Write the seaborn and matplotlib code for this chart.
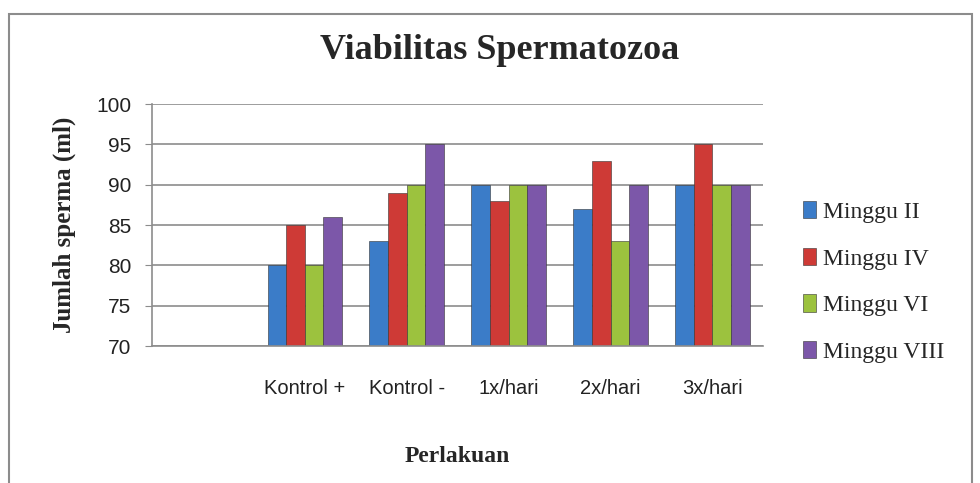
import pandas as pd
import seaborn as sns
import matplotlib.pyplot as plt
from matplotlib.patches import Rectangle

# Viabilitas spermatozoa per perlakuan dan minggu
perlakuan = ["Kontrol +", "Kontrol -", "1x/hari", "2x/hari", "3x/hari"]
minggu = ["Minggu II", "Minggu IV", "Minggu VI", "Minggu VIII"]
minggu_2 = [80, 83, 90, 87, 90]
minggu_4 = [85, 89, 88, 93, 95]
minggu_6 = [80, 90, 90, 83, 90]
minggu_8 = [86, 95, 90, 90, 90]

colors = ["#3B7CC8", "#CE3A36", "#9CC23E", "#7C57A9"]

df = pd.DataFrame({
    "perlakuan": perlakuan * 4,
    "minggu": [m for m in minggu for _ in perlakuan],
    "nilai": minggu_2 + minggu_4 + minggu_6 + minggu_8,
})

sns.set_style("white")
fig = plt.figure(figsize=(9.8, 4.83), dpi=100)
ax = fig.add_axes([0.155, 0.2836, 0.624, 0.501])

# the first slot is empty in the original chart
order = [""] + perlakuan
sns.barplot(data=df, x="perlakuan", y="nilai", hue="minggu", order=order,
            hue_order=minggu, palette=colors, width=0.73, saturation=1,
            edgecolor="#333333", linewidth=0.4, ax=ax, legend=True)

ax.set_ylim(70, 100)
ax.set_yticks(range(70, 101, 5))
ax.yaxis.grid(True, color="#8c8c8c", linewidth=1.2)
ax.set_axisbelow(True)
for side in ["top", "right"]:
    ax.spines[side].set_visible(False)
ax.spines["left"].set_color("#8c8c8c")
ax.spines["bottom"].set_color("#8c8c8c")
ax.spines["left"].set_linewidth(1.2)
ax.spines["bottom"].set_linewidth(1.2)

ax.tick_params(axis="y", length=5, color="#8c8c8c", pad=10, labelsize=15,
               left=True)
ax.tick_params(axis="x", length=0, pad=24, labelsize=14.5)
for lab in ax.get_xticklabels() + ax.get_yticklabels():
    lab.set_family("Liberation Sans")
    lab.set_color("#222222")

ax.set_xlabel("Perlakuan", family="Liberation Serif", fontweight="bold",
              fontsize=17, labelpad=34)
ax.set_ylabel("Jumlah sperma (ml)", family="Liberation Serif",
              fontweight="bold", fontsize=18, labelpad=14)
fig.text(0.51, 0.896, "Viabilitas Spermatozoa", family="Liberation Serif",
         fontweight="bold", fontsize=26, ha="center", va="center")

ax.legend(loc="center left", bbox_to_anchor=(0.798, 0.416),
          bbox_transform=fig.transFigure, frameon=False,
          prop={"family": "Liberation Serif", "size": 17},
          handlelength=0.55, handleheight=0.75, handletextpad=0.3,
          labelspacing=1.05)

fig.patches.append(Rectangle((9 / 980, -0.02), 963 / 980, 1 - 14 / 483 + 0.02,
                             transform=fig.transFigure, fill=False,
                             edgecolor="#8c8c8c", linewidth=1.5))

fig.savefig("out.png", dpi=100)
